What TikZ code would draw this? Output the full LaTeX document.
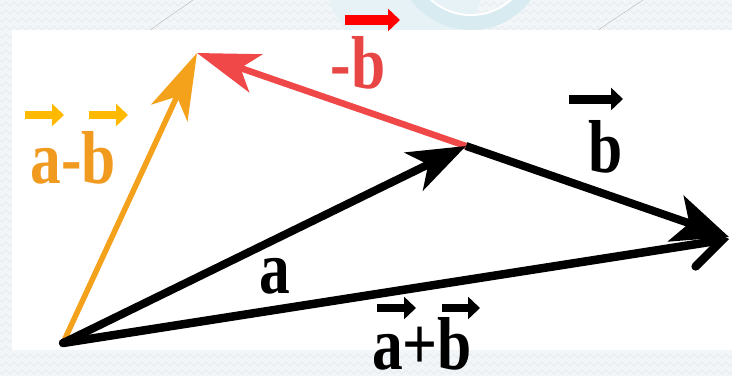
\documentclass[tikz,border=0pt]{standalone}
\usepackage{fontspec}
\setmainfont{Liberation Serif}
\usetikzlibrary{arrows.meta,decorations.pathmorphing}
\definecolor{bgpat}{HTML}{F2F6F8}
\definecolor{zig}{HTML}{E6ECF0}
\definecolor{vorange}{HTML}{F4A11C}
\definecolor{vred}{HTML}{F04848}
\definecolor{lblorange}{HTML}{F09A20}
\definecolor{lblred}{HTML}{E84545}
\definecolor{tinyor}{HTML}{FFBA00}
\definecolor{tinyred}{HTML}{FF0000}
\definecolor{wm}{HTML}{E6F2F6}
\definecolor{wmring}{HTML}{D8EBF1}
\begin{document}
\begin{tikzpicture}[x=1pt,y=-1pt,
  lbl/.style={font=\bfseries\fontsize{75}{75}\selectfont, anchor=base, inner sep=0pt, xscale=0.82},
  ovec/.style={line width=8pt, -{Triangle[length=12pt,width=22pt]}},
  zigline/.style={zig, line width=0.8pt, decorate, decoration={zigzag, segment length=8pt, amplitude=2pt}}
]
\useasboundingbox (0,0) rectangle (732,376);
% background pattern
\fill[bgpat] (0,0) rectangle (732,376);
\begin{scope}
  \clip (0,0) rectangle (732,376);
  \foreach \yy in {4,12,...,380} \draw[zigline] (-4,\yy) -- (740,\yy);
  % watermark
  \fill[wm] (405,-25) circle (80pt);
  \draw[wmring, line width=16pt] (471,-45) circle (67pt);
  \draw[white, line width=2pt] (471,-45) circle (60pt);
\end{scope}
\draw[gray!50, line width=0.5pt] (150,30) -- (193,0);
\draw[gray!50, line width=0.5pt] (598,30) -- (643,0);
% white panel
\fill[white] (12,30) rectangle (732,350);

% points
\coordinate (O) at (63,343);
\coordinate (P) at (197,53);
\coordinate (Q) at (466,146);
\coordinate (R) at (729,237);
\coordinate (S) at (729,239);

% vectors
\draw[vorange, line width=5.5pt, -{Stealth[length=66pt,width=40pt,inset=18pt]}] (O) -- (P);
\draw[vred, line width=6.5pt, -{Stealth[length=62pt,width=40pt,inset=16pt]}] (Q) -- (P);
\draw[black, line width=8pt, -{Stealth[length=58pt,width=42pt,inset=16pt]}] (O) -- (Q);
\draw[black, line width=8pt, -{Stealth[length=56pt,width=48pt,inset=14pt]}] (Q) -- (R);
\draw[black, line width=8.5pt, line cap=round, -{Straight Barb[length=30pt,width=44pt,line cap=round]}] (O) -- (S);

% labels
\node[lbl, text=lblorange] (lamb) at (73,183) {a-b};
\node[lbl, text=lblred] (lnb) at (358,88) {-b};
\node[lbl, text=black] (lb) at (606,172) {b};
\node[lbl, text=black] (la) at (275,293) {a};
\node[lbl, text=black] (lapb) at (422,369) {a+b};

% overhead vector arrows
\draw[ovec, tinyor] (25,115) -- (64,115);
\draw[ovec, tinyor] (89,115) -- (128,115);
\draw[ovec, tinyred, line width=10pt] (345,20) -- (400,20);
\draw[ovec, black, line width=9pt] (569,99) -- (623,99);
\draw[ovec, black, line width=8pt] (377,308) -- (416,308);
\draw[ovec, black, line width=8pt] (442,308) -- (480,308);
\end{tikzpicture}
\end{document}
